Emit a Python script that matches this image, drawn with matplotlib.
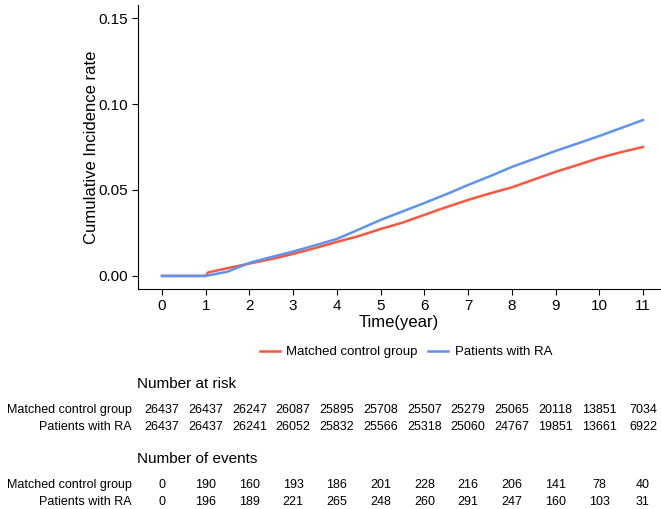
import matplotlib
matplotlib.use("Agg")
import matplotlib.pyplot as plt
from matplotlib.lines import Line2D
from matplotlib.transforms import blended_transform_factory

plt.rcParams['font.family'] = ['Liberation Sans', 'DejaVu Sans']

# curves
red_t = [0, 1, 1.05, 1.5, 2, 2.5, 3, 3.5, 4, 4.5, 5, 5.5, 6, 6.5, 7, 7.5, 8, 8.5, 9, 9.5, 10, 10.5, 11]
red_y = [0, 0, 0.002, 0.0045, 0.0072, 0.0098, 0.0128, 0.0162, 0.0198, 0.0232, 0.0273, 0.031, 0.0355,
         0.040, 0.0442, 0.048, 0.0515, 0.056, 0.0605, 0.0645, 0.0686, 0.072, 0.075]
blue_t = [0, 1, 1.5, 2, 2.5, 3, 3.5, 4, 4.5, 5, 5.5, 6, 6.5, 7, 7.5, 8, 8.5, 9, 9.5, 10, 10.5, 11]
blue_y = [0, 0, 0.0025, 0.0076, 0.011, 0.0142, 0.0178, 0.0215, 0.027, 0.0326, 0.0375, 0.0424, 0.0475,
          0.0529, 0.058, 0.0634, 0.068, 0.0727, 0.077, 0.0814, 0.086, 0.0907]

groups = ["Matched control group", "Patients with RA"]
years = list(range(12))
at_risk_ctrl = [26437, 26437, 26247, 26087, 25895, 25708, 25507, 25279, 25065, 20118, 13851, 7034]
at_risk_ra = [26437, 26437, 26241, 26052, 25832, 25566, 25318, 25060, 24767, 19851, 13661, 6922]
events_ctrl = [0, 190, 160, 193, 186, 201, 228, 216, 206, 141, 78, 40]
events_ra = [0, 196, 189, 221, 265, 248, 260, 291, 247, 160, 103, 31]

RED = '#F9573F'
BLUE = '#5F93F0'

fig = plt.figure(figsize=(6.61, 5.09), dpi=100)
ax = fig.add_axes([138 / 661, 1 - 289 / 509, (660 - 138) / 661, (289 - 5) / 509])

ax.plot(red_t, red_y, color=RED, lw=1.8)
ax.plot(blue_t, blue_y, color=BLUE, lw=1.8)

ax.set_xlim(-0.55, 11.39)
ax.set_ylim(-0.0076, 0.1576)
ax.set_xticks(years)
ax.set_yticks([0, 0.05, 0.10, 0.15])
ax.set_yticklabels(["0.00", "0.05", "0.10", "0.15"])
ax.tick_params(labelsize=11, colors='black', length=4)
for s in ['top', 'right']:
    ax.spines[s].set_visible(False)
ax.set_xlabel("Time(year)", fontsize=12, labelpad=1)
ax.set_ylabel("Cumulative Incidence rate", fontsize=12, labelpad=-1)

handles = [Line2D([], [], color=RED, lw=1.8), Line2D([], [], color=BLUE, lw=1.8)]
fig.legend(handles, groups, loc='center', bbox_to_anchor=(406 / 661, 1 - 352 / 509), ncol=2,
           frameon=False, fontsize=9.5, handlelength=1.5, columnspacing=0.8, handletextpad=0.5)

# risk table, columns lined up with the x ticks
tr = blended_transform_factory(ax.transData, fig.transFigure)

def row(y_px, label, vals):
    fig.text(132 / 661, 1 - y_px / 509, label, ha='right', va='center', fontsize=9)
    for x, v in zip(years, vals):
        fig.text(x, 1 - y_px / 509, str(v), ha='center', va='center', fontsize=9, transform=tr)

fig.text(137 / 661, 1 - 384 / 509, "Number at risk", ha='left', va='center', fontsize=11)
row(410, groups[0], at_risk_ctrl)
row(427, groups[1], at_risk_ra)
fig.text(137 / 661, 1 - 459 / 509, "Number of events", ha='left', va='center', fontsize=11)
row(485, groups[0], events_ctrl)
row(502, groups[1], events_ra)

fig.savefig("out.png", dpi=100)
